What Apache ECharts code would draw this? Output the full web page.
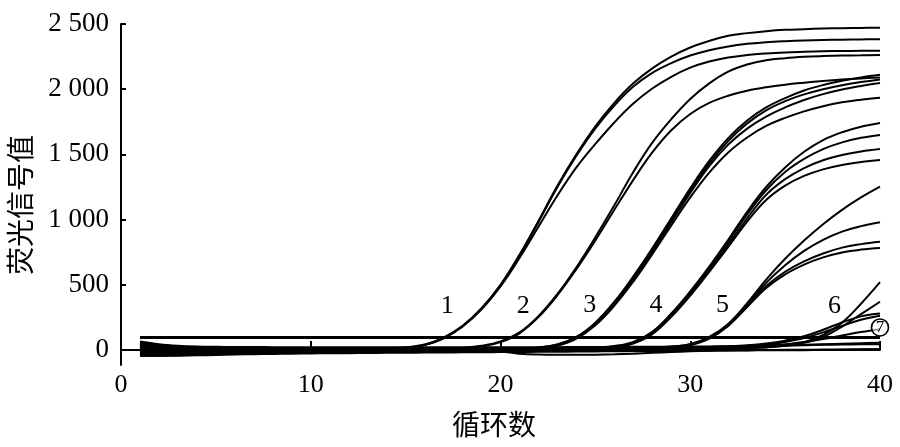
<!DOCTYPE html>
<html><head><meta charset="utf-8">
<script src="https://cdn.jsdelivr.net/npm/echarts@6/dist/echarts.min.js"></script>
<style>html,body{margin:0;padding:0;background:#fff}#c{width:900px;height:447px}</style>
</head><body><div id="c"></div>
<script>
const cycles = [1,2,3,4,5,6,7,8,9,10,11,12,13,14,15,16,17,18,19,20,21,22,23,24,25,26,27,28,29,30,31,32,33,34,35,36,37,38,39,40];
const xTicks = [0,10,20,30,40];
const yTicks = [0,500,1000,1500,2000,2500];
const thresholdValue = 95;

// group 1
const g1a = [60,38,24,18,15,13,12,12,11,11,12,12,13,15,20,42,95,185,320,500,730,990,1260,1500,1715,1895,2045,2160,2250,2320,2370,2410,2430,2445,2455,2460,2465,2468,2470,2472];
const g1b = [-20,-25,-22,-18,-15,-12,-10,-8,-6,-5,-4,-3,-2,2,12,38,90,180,315,495,722,980,1250,1490,1700,1875,2020,2125,2200,2258,2298,2328,2348,2360,2368,2374,2378,2380,2382,2383];
const g1c = [25,10,2,0,0,1,2,2,3,3,4,5,6,8,15,38,90,180,312,488,705,945,1185,1400,1580,1745,1890,2005,2095,2165,2212,2243,2262,2274,2282,2287,2291,2293,2294,2295];
// group 2
const g2a = [45,25,12,8,6,5,5,5,5,5,5,5,6,6,7,8,10,16,32,66,135,260,430,635,865,1110,1365,1590,1770,1925,2045,2135,2190,2222,2238,2248,2254,2258,2260,2262];
const g2b = [-35,-38,-36,-32,-28,-24,-20,-17,-14,-12,-10,-8,-7,-5,-4,-2,2,8,26,60,128,252,420,620,840,1075,1305,1515,1685,1810,1895,1950,1988,2015,2035,2050,2063,2074,2083,2090];
// group 3
const g3a = [10,0,-5,-7,-7,-6,-5,-4,-3,-2,-1,0,0,1,1,2,2,3,4,6,10,18,42,100,210,370,565,780,1010,1240,1450,1625,1760,1860,1932,1990,2032,2064,2090,2110];
const g3b = [35,18,8,4,2,2,2,3,3,4,4,5,5,6,6,7,7,8,9,10,12,20,42,98,205,360,552,768,995,1222,1430,1603,1738,1838,1908,1960,2000,2031,2055,2075];
const g3c = [-45,-44,-41,-37,-33,-29,-25,-22,-19,-17,-15,-13,-11,-10,-9,-8,-7,-6,-5,-4,-2,8,35,92,200,352,545,755,980,1205,1410,1575,1698,1790,1860,1917,1962,1998,2025,2047];
const g3d = [5,-8,-15,-16,-15,-14,-12,-10,-9,-8,-7,-6,-5,-4,-3,-3,-2,-2,-1,0,3,12,35,88,190,340,525,735,955,1170,1360,1515,1630,1718,1780,1830,1870,1900,1920,1935];
// group 4
const g4a = [50,30,18,12,10,9,8,8,8,8,8,8,8,8,9,9,9,10,10,10,11,11,12,13,18,30,62,140,280,450,640,845,1060,1250,1400,1520,1610,1670,1712,1741];
const g4b = [-10,-18,-20,-19,-17,-15,-13,-11,-10,-9,-8,-7,-6,-5,-5,-4,-4,-3,-3,-2,-2,-1,0,3,10,24,58,135,272,440,628,830,1040,1225,1365,1465,1540,1592,1627,1649];
const g4c = [15,4,-2,-3,-3,-2,-1,0,0,1,1,2,2,3,3,4,4,4,5,5,5,6,6,8,14,27,55,128,262,428,612,808,1010,1190,1310,1395,1455,1495,1523,1542];
const g4d = [-30,-33,-32,-29,-26,-23,-20,-18,-16,-14,-13,-12,-11,-10,-9,-8,-7,-6,-6,-5,-5,-4,-3,0,6,20,50,122,255,418,600,790,985,1150,1260,1335,1385,1418,1441,1457];
// group 5
const g5a = [30,15,6,3,2,2,3,3,4,4,5,5,6,6,7,7,8,8,9,9,10,10,11,11,12,12,13,16,25,45,100,200,360,540,700,840,965,1075,1170,1253];
const g5b = [-5,-12,-15,-14,-13,-11,-10,-9,-8,-7,-6,-5,-5,-4,-4,-3,-3,-2,-2,-1,-1,0,0,1,1,2,4,8,18,42,95,195,350,515,650,760,845,908,950,980];
const g5c = [55,34,20,14,11,10,9,9,9,9,9,9,9,10,10,10,10,11,11,11,12,12,12,13,13,14,15,18,26,44,92,190,340,490,600,680,740,785,812,830];
const g5d = [-40,-40,-38,-35,-31,-28,-25,-22,-20,-18,-16,-15,-14,-13,-12,-11,-10,-9,-8,-8,-7,-6,-6,-5,-4,-3,-1,4,15,38,88,185,330,475,580,655,710,748,770,782];
// group 6
const g6a = [20,8,2,0,0,1,1,2,2,3,3,3,4,4,4,5,5,5,5,6,6,6,7,7,7,8,8,9,10,11,12,14,17,22,35,60,115,210,355,520];
const g6b = [-15,-20,-20,-18,-16,-14,-12,-11,-10,-9,-8,-7,-6,-6,-5,-5,-4,-4,-3,-3,-2,-2,-1,-1,0,0,1,2,3,5,7,10,14,20,32,55,100,180,275,370];
const g6c = [40,22,12,8,7,7,7,7,8,8,8,9,9,9,10,10,10,11,11,11,12,12,12,13,13,14,15,16,18,20,23,28,36,50,72,105,155,212,258,280];
const g6d = [-25,-28,-27,-24,-21,-18,-16,-14,-12,-11,-10,-9,-8,-7,-6,-6,-5,-5,-4,-4,-3,-3,-2,-2,-1,-1,0,1,3,6,10,16,25,40,62,92,135,185,232,262];
const g6e = [8,-3,-8,-9,-9,-8,-7,-6,-5,-4,-4,-3,-3,-2,-2,-1,-1,0,0,1,1,2,2,3,3,4,5,6,8,10,13,17,23,32,45,62,85,112,138,160];
// negatives (7)
const n1 = [65,44,32,26,24,23,23,22,22,22,22,22,22,22,22,22,22,22,22,22,22,22,22,23,23,23,24,24,25,26,27,29,31,34,37,40,44,48,52,55];
const n2 = [-42,-45,-44,-41,-38,-35,-32,-30,-28,-26,-25,-24,-23,-22,-21,-20,-19,-18,-17,-16,-15,-14,-13,-12,-11,-10,-9,-8,-7,-6,-5,-4,-3,-2,-2,-1,0,2,4,6];
const n3 = [0,-6,-9,-9,-8,-7,-6,-5,-4,-4,-3,-3,-2,-2,-2,-2,-2,-3,-5,-12,-28,-35,-37,-37,-36,-33,-28,-22,-16,-10,-6,-3,-1,0,1,2,3,4,5,6];
const n4 = [22,12,5,2,1,1,1,1,2,2,2,3,3,3,4,4,5,5,6,6,7,7,8,9,10,11,12,13,15,17,19,22,25,29,33,37,40,42,44,45];

const curveLabels = ['1','2','3','4','5','6'];
const curveLabelAt = [[17.2,337],[21.2,337],[24.7,345],[28.2,345],[31.7,345],[37.6,337]];
const circleLabel = '7';
const circleLabelAt = [40.0,173];

const curves = [g1a,g1b,g1c,g2a,g2b,g3a,g3b,g3c,g3d,g4a,g4b,g4c,g4d,g5a,g5b,g5c,g5d,g6a,g6b,g6c,g6d,g6e,n1,n2,n3,n4];

const chart = echarts.init(document.getElementById('c'), null, {renderer:'canvas'});
const serif = 'Liberation Serif, Times New Roman, serif';
const fmt = v => v >= 1000 ? Math.floor(v/1000) + ' ' + String(v % 1000).padStart(3,'0') : String(v);

const series = curves.map(v => ({
  type:'line', data: cycles.map((c,i)=>[c, v[i]]), showSymbol:false, symbol:'none',
  smooth:0.4, lineStyle:{color:'#000', width:2}, silent:true, z:2
}));
series.push({
  type:'line', data: cycles.map(c=>[c, thresholdValue]), showSymbol:false, symbol:'none',
  lineStyle:{color:'#000', width:3}, silent:true, z:3
});

chart.setOption({
  animation:false,
  backgroundColor:'#fff',
  grid:{left:121, right:20, top:24, bottom:82, containLabel:false},
  xAxis:{type:'value', min:0, max:40, interval:10,
    axisLine:{lineStyle:{color:'#000', width:2}},
    axisTick:{inside:true, length:9, lineStyle:{color:'#000', width:2}},
    axisLabel:{color:'#000', fontFamily:serif, fontSize:26, margin:7},
    splitLine:{show:false}},
  yAxis:{type:'value', min:-115, max:2500,
    axisLine:{show:true, lineStyle:{color:'#000', width:2}},
    axisTick:{show:true, inside:true, length:5, customValues:yTicks, lineStyle:{color:'#000', width:2}},
    axisLabel:{color:'#000', fontFamily:serif, fontSize:27, margin:12, customValues:yTicks, formatter:fmt},
    splitLine:{show:false}},
  series
});

const P = (p) => chart.convertToPixel({gridIndex:0}, p);
const g = [];
curveLabels.forEach((t,i)=>{
  const p = P(curveLabelAt[i]);
  g.push({type:'text', x:p[0], y:p[1], style:{text:t, fill:'#000', font:'26px '+serif, align:'center', verticalAlign:'middle'}, z:10});
});
const cp = P(circleLabelAt);
g.push({type:'circle', shape:{cx:cp[0], cy:cp[1], r:8.5}, style:{fill:'rgba(255,255,255,0.6)', stroke:'#000', lineWidth:1.6}, z:10});
g.push({type:'text', x:cp[0], y:cp[1], style:{text:circleLabel, fill:'#000', font:'17px '+serif, align:'center', verticalAlign:'middle'}, z:11});
g.push({type:'text', x:494, y:424, style:{text:'循环数', fill:'#000', font:'28px "Noto Sans CJK SC"', align:'center', verticalAlign:'middle'}, z:10});
g.push({type:'text', x:20, y:205, rotation:Math.PI/2, style:{text:'荧光信号值', fill:'#000', font:'28px "Noto Sans CJK SC"', align:'center', verticalAlign:'middle'}, z:10});
chart.setOption({graphic:g});
</script></body></html>
